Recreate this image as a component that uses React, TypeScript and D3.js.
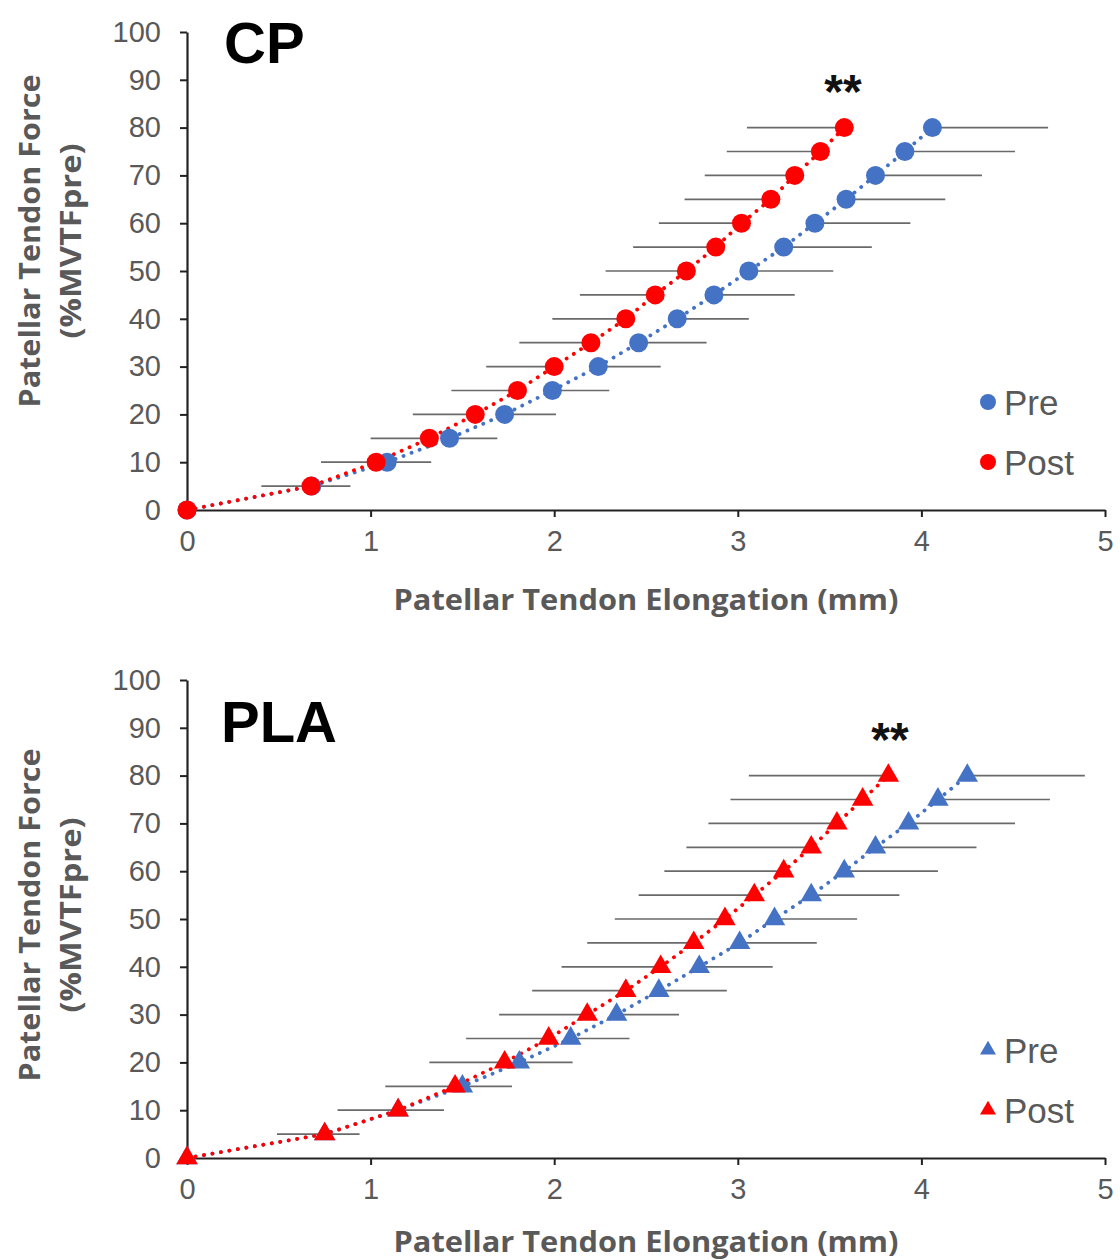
import * as d3 from 'd3';
import { useEffect, useRef } from 'react';

const forceLevels = [0, 5, 10, 15, 20, 25, 30, 35, 40, 45, 50, 55, 60, 65, 70, 75, 80];

const cpPre = [0, 0.68, 1.09, 1.43, 1.73, 1.99, 2.24, 2.46, 2.67, 2.87, 3.06, 3.25, 3.42, 3.59, 3.75, 3.91, 4.06];
const cpPost = [0, 0.675, 1.03, 1.32, 1.57, 1.8, 2.0, 2.2, 2.39, 2.55, 2.72, 2.88, 3.02, 3.18, 3.31, 3.45, 3.58];
const cpPreErr = [0, 0.21, 0.24, 0.26, 0.28, 0.31, 0.34, 0.37, 0.39, 0.44, 0.46, 0.48, 0.52, 0.54, 0.58, 0.6, 0.63];
const cpPostErr = [0, 0.27, 0.3, 0.32, 0.34, 0.36, 0.37, 0.39, 0.4, 0.41, 0.44, 0.45, 0.45, 0.47, 0.49, 0.51, 0.53];

const plaPre = [0, 0.75, 1.15, 1.5, 1.81, 2.09, 2.34, 2.57, 2.79, 3.01, 3.2, 3.4, 3.58, 3.75, 3.93, 4.09, 4.25];
const plaPost = [0, 0.75, 1.15, 1.46, 1.73, 1.97, 2.18, 2.39, 2.58, 2.76, 2.93, 3.09, 3.25, 3.4, 3.54, 3.68, 3.82];
const plaPreErr = [0, 0.19, 0.25, 0.27, 0.29, 0.32, 0.34, 0.37, 0.4, 0.42, 0.45, 0.48, 0.51, 0.55, 0.58, 0.61, 0.64];
const plaPostErr = [0, 0.26, 0.33, 0.38, 0.41, 0.45, 0.48, 0.51, 0.54, 0.58, 0.6, 0.63, 0.65, 0.68, 0.7, 0.72, 0.76];

const xTicks = [0, 1, 2, 3, 4, 5];
const yTicks = [0, 10, 20, 30, 40, 50, 60, 70, 80, 90, 100];
const seriesNames = ['Pre', 'Post'];

const blue = '#4472c4';
const red = '#ff0000';
const textGray = '#595959';
const errGray = '#6a6a6a';

const panels = [
  {
    title: 'CP', marker: 'circle', top: 32, titleX: 224, titleY: 63,
    pre: cpPre, post: cpPost, preErr: cpPreErr, postErr: cpPostErr,
    starX: 843, xTitleY: 610, yTitleMid: 241,
  },
  {
    title: 'PLA', marker: 'triangle', top: 680, titleX: 221, titleY: 742,
    pre: plaPre, post: plaPost, preErr: plaPreErr, postErr: plaPostErr,
    starX: 890, xTitleY: 1252, yTitleMid: 915,
  },
];

const left = 187;
const right = 1105;
const plotHeight = 478;
const tickFont = '"Liberation Sans", Arial, sans-serif';

export default function App() {
  const svgRef = useRef<SVGSVGElement | null>(null);

  useEffect(() => {
    const svg = d3.select(svgRef.current);
    svg.selectAll('*').remove();

    const x = d3.scaleLinear().domain([0, 5]).range([left, right]);

    panels.forEach((panel) => {
      const y = d3.scaleLinear().domain([0, 100]).range([panel.top + plotHeight, panel.top]);
      const g = svg.append('g');
      const bottom = panel.top + plotHeight;

      // axes
      const xAxis = g
        .append('g')
        .attr('transform', `translate(0, ${bottom})`)
        .call(d3.axisBottom(x).tickValues(xTicks).tickSize(7).tickSizeOuter(0).tickPadding(13).tickFormat(d3.format('d')));
      xAxis.select('.domain').attr('stroke', '#222').attr('stroke-width', 2.2);
      xAxis.selectAll('line').attr('stroke', '#222').attr('stroke-width', 2);
      xAxis.selectAll('text').attr('fill', textGray).style('font-size', '29px').style('font-family', tickFont);

      const yAxis = g
        .append('g')
        .attr('transform', `translate(${left}, 0)`)
        .call(d3.axisLeft(y).tickValues(yTicks).tickSize(7).tickSizeOuter(0).tickPadding(19));
      yAxis.select('.domain').attr('stroke', '#222').attr('stroke-width', 2.2);
      yAxis.selectAll('line').attr('stroke', '#222').attr('stroke-width', 2);
      yAxis.selectAll('text').attr('fill', textGray).style('font-size', '29px').style('font-family', tickFont);

      // axis titles
      g.append('text')
        .attr('x', (left + right) / 2)
        .attr('y', panel.xTitleY)
        .attr('text-anchor', 'middle')
        .attr('fill', textGray)
        .attr('textLength', 505)
        .attr('lengthAdjust', 'spacingAndGlyphs')
        .style('font-family', '"Open Sans", sans-serif')
        .style('font-weight', '700')
        .style('font-size', '28px')
        .text('Patellar Tendon Elongation (mm)');

      [
        { label: 'Patellar Tendon Force', bx: 40, len: 333 },
        { label: '(%MVTFpre)', bx: 81, len: 195 },
      ].forEach((line) => {
        g.append('text')
          .attr('transform', `translate(${line.bx}, ${panel.yTitleMid}) rotate(-90)`)
          .attr('text-anchor', 'middle')
          .attr('fill', textGray)
          .attr('textLength', line.len)
          .attr('lengthAdjust', 'spacingAndGlyphs')
          .style('font-family', '"Open Sans", sans-serif')
          .style('font-weight', '700')
          .style('font-size', '28px')
          .text(line.label);
      });

      // title
      g.append('text')
        .attr('x', panel.titleX)
        .attr('y', panel.titleY)
        .attr('fill', '#000')
        .style('font-family', tickFont)
        .style('font-weight', '700')
        .style('font-size', '58px')
        .text(panel.title);

      // significance
      g.append('text')
        .attr('x', panel.starX)
        .attr('y', panel.top + 76)
        .attr('text-anchor', 'middle')
        .attr('fill', '#111')
        .style('font-family', tickFont)
        .style('font-weight', '700')
        .style('font-size', '48px')
        .text('**');

      const series = [
        { name: seriesNames[0], values: panel.pre, err: panel.preErr, dir: 1, color: blue },
        { name: seriesNames[1], values: panel.post, err: panel.postErr, dir: -1, color: red },
      ];

      // error bars
      series.forEach((s) => {
        g.append('g')
          .selectAll('line')
          .data(s.values.map((v, i) => ({ v, e: s.err[i], f: forceLevels[i] })).filter((d) => d.e > 0))
          .join('line')
          .attr('x1', (d) => x(d.v))
          .attr('x2', (d) => x(d.v + s.dir * d.e))
          .attr('y1', (d) => y(d.f))
          .attr('y2', (d) => y(d.f))
          .attr('stroke', errGray)
          .attr('stroke-width', 1.7);
      });

      // dotted lines
      series.forEach((s) => {
        const line = d3
          .line<number>()
          .x((v) => x(v))
          .y((_, i) => y(forceLevels[i]));
        g.append('path')
          .datum(s.values)
          .attr('d', line)
          .attr('fill', 'none')
          .attr('stroke', s.color)
          .attr('stroke-width', 3.8)
          .attr('stroke-linecap', 'round')
          .attr('stroke-dasharray', '0.1 8.5');
      });

      // markers
      const triangle = d3.symbol().type(d3.symbolTriangle).size(200);
      series.forEach((s) => {
        const pts = s.values.map((v, i) => ({ v, f: forceLevels[i] }));
        if (panel.marker === 'circle') {
          g.append('g')
            .selectAll('circle')
            .data(pts)
            .join('circle')
            .attr('cx', (d) => x(d.v))
            .attr('cy', (d) => y(d.f))
            .attr('r', 9.5)
            .attr('fill', s.color);
        } else {
          g.append('g')
            .selectAll('path')
            .data(pts)
            .join('path')
            .attr('transform', (d) => `translate(${x(d.v)}, ${y(d.f)})`)
            .attr('d', triangle)
            .attr('fill', s.color);
        }
      });

      // legend
      const smallTriangle = d3.symbol().type(d3.symbolTriangle).size(110);
      series.forEach((s, i) => {
        const ly = panel.top + 370 + i * 60;
        if (panel.marker === 'circle') {
          g.append('circle').attr('cx', 988).attr('cy', ly).attr('r', 8).attr('fill', s.color);
        } else {
          g.append('path').attr('transform', `translate(988, ${ly})`).attr('d', smallTriangle).attr('fill', s.color);
        }
        g.append('text')
          .attr('x', 1004)
          .attr('y', ly + 13)
          .attr('fill', textGray)
          .style('font-family', tickFont)
          .style('font-size', '35px')
          .text(s.name);
      });
    });
  }, []);

  return (
    <svg
      ref={svgRef}
      width={1120}
      height={1260}
      style={{ position: 'absolute', left: 0, top: 0, background: '#fff' }}
    />
  );
}
